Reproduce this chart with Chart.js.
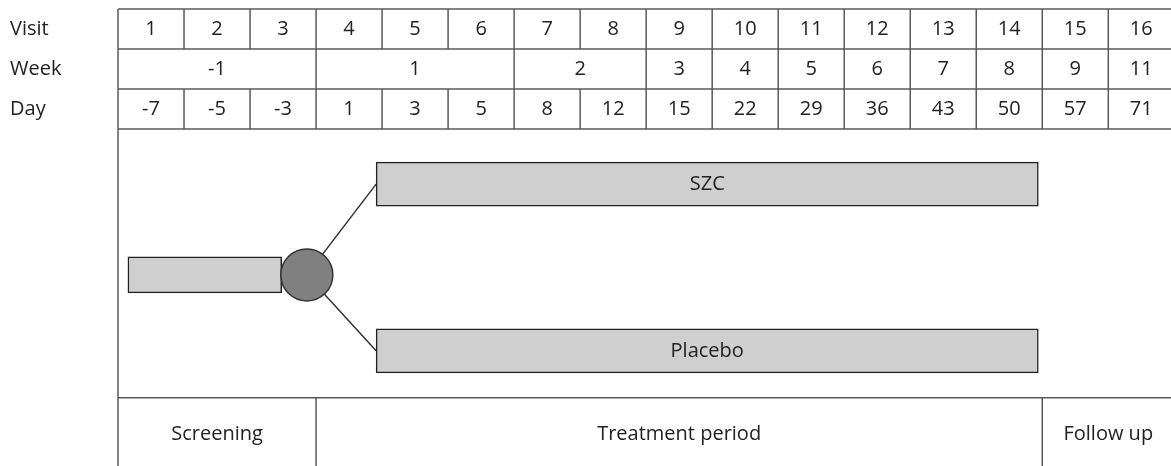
<!DOCTYPE html>
<html lang="en">
<head>
    <meta charset="UTF-8">
    <title>Study design</title>
    <style>
        body {
            margin: 0;
            background-color: #fff;
        }
        .chart-box {
            position: relative;
            width: 1171px;
            height: 466px;
        }
    </style>
    <script src="https://cdn.jsdelivr.net/npm/chart.js"></script>
</head>
<body>
    <div class="chart-box">
        <canvas id="design"></canvas>
    </div>

    <script>
        // table header rows
        const rowLabels = ['Visit', 'Week', 'Day'];
        const visits = ['1', '2', '3', '4', '5', '6', '7', '8', '9', '10', '11', '12', '13', '14', '15', '16'];
        const weekLabels = ['-1', '1', '2', '3', '4', '5', '6', '7', '8', '9', '11'];
        const weekSpans = [3, 3, 2, 1, 1, 1, 1, 1, 1, 1, 1];
        const days = ['-7', '-5', '-3', '1', '3', '5', '8', '12', '15', '22', '29', '36', '43', '50', '57', '71'];

        // study periods (bottom row), spans in visit columns
        const periodLabels = ['Screening', 'Treatment period', 'Follow up'];
        const periodSpans = [3, 11, 2];

        // arms: x in visit columns, y in table rows
        const armLabels = ['SZC', 'Placebo'];
        const armRows = [4.38, 8.55];
        const armStart = [3.91, 3.91];
        const armEnd = [13.94, 13.94];

        // screening bar and randomisation point
        const screenRow = 6.65;
        const screenStart = 0.15;
        const screenEnd = 2.48;
        const randX = 2.86;

        // where the diagram part ends and the period row starts
        const diagramEnd = 9.72;
        const periodRow = 10.63;

        const FONT = "'Open Sans', 'DejaVu Sans', sans-serif";
        const FONT_SIZE = 20;
        const LINE = '#5a5a5a';

        const tablePlugin = {
            id: 'table',
            beforeDatasetsDraw(chart) {
                const ctx = chart.ctx;
                const x = chart.scales.x;
                const y = chart.scales.y;
                const px = v => x.getPixelForValue(v);
                const py = v => y.getPixelForValue(v);
                const nCols = visits.length;

                ctx.save();
                ctx.strokeStyle = LINE;
                ctx.lineWidth = 1.5;

                function hline(x0, x1, yy) {
                    ctx.beginPath();
                    ctx.moveTo(px(x0), py(yy));
                    ctx.lineTo(px(x1), py(yy));
                    ctx.stroke();
                }
                function vline(xx, y0, y1) {
                    ctx.beginPath();
                    ctx.moveTo(px(xx), py(y0));
                    ctx.lineTo(px(xx), py(y1));
                    ctx.stroke();
                }

                // horizontal rules
                [0, 1, 2, 3, diagramEnd].forEach(r => hline(0, nCols, r));

                // outer verticals
                vline(0, 0, y.max);
                vline(nCols, 0, y.max);

                // visit and day columns
                for (let i = 1; i < nCols; i++) {
                    vline(i, 0, 1);
                    vline(i, 2, 3);
                }
                // week spans
                let acc = 0;
                weekSpans.forEach((s, i) => {
                    acc += s;
                    if (i < weekSpans.length - 1) vline(acc, 1, 2);
                });
                // period spans
                acc = 0;
                periodSpans.forEach((s, i) => {
                    acc += s;
                    if (i < periodSpans.length - 1) vline(acc, diagramEnd, y.max);
                });

                // cell texts
                ctx.fillStyle = '#222';
                ctx.font = FONT_SIZE + 'px ' + FONT;
                ctx.textAlign = 'center';
                ctx.textBaseline = 'middle';
                visits.forEach((t, i) => ctx.fillText(t, px(i + 0.5), py(0.5)));
                acc = 0;
                weekLabels.forEach((t, i) => {
                    ctx.fillText(t, px(acc + weekSpans[i] / 2), py(1.5));
                    acc += weekSpans[i];
                });
                days.forEach((t, i) => ctx.fillText(t, px(i + 0.5), py(2.5)));
                acc = 0;
                periodLabels.forEach((t, i) => {
                    ctx.fillText(t, px(acc + periodSpans[i] / 2), py(periodRow));
                    acc += periodSpans[i];
                });
                ctx.restore();
            },
            afterDatasetsDraw(chart) {
                // arm names inside the bars
                const ctx = chart.ctx;
                const meta = chart.getDatasetMeta(1);
                ctx.save();
                ctx.fillStyle = '#222';
                ctx.font = FONT_SIZE + 'px ' + FONT;
                ctx.textAlign = 'center';
                ctx.textBaseline = 'middle';
                meta.data.forEach((bar, i) => {
                    const c = bar.getCenterPoint();
                    ctx.fillText(armLabels[i], c.x, c.y);
                });
                ctx.restore();
            }
        };

        new Chart(document.getElementById('design'), {
            type: 'bar',
            data: {
                datasets: [
                    {
                        type: 'line',
                        data: [
                            { x: armStart[0], y: armRows[0] },
                            { x: randX, y: screenRow },
                            { x: armStart[1], y: armRows[1] }
                        ],
                        borderColor: '#333',
                        borderWidth: 1.5,
                        pointRadius: 0,
                        tension: 0,
                        order: 4
                    },
                    {
                        type: 'bar',
                        indexAxis: 'y',
                        data: armRows.map((r, i) => ({ y: r, x: [armStart[i], armEnd[i]] })),
                        backgroundColor: '#d0cfd0',
                        borderColor: '#222',
                        borderWidth: 1.5,
                        borderSkipped: false,
                        barThickness: 44,
                        grouped: false,
                        order: 3
                    },
                    {
                        type: 'bar',
                        indexAxis: 'y',
                        data: [{ y: screenRow, x: [screenStart, screenEnd] }],
                        backgroundColor: '#d0cfd0',
                        borderColor: '#222',
                        borderWidth: 1.5,
                        borderSkipped: false,
                        barThickness: 36,
                        grouped: false,
                        order: 2
                    },
                    {
                        type: 'scatter',
                        data: [{ x: randX, y: screenRow }],
                        backgroundColor: '#808080',
                        borderColor: '#333',
                        borderWidth: 1.5,
                        pointRadius: 26,
                        pointHoverRadius: 26,
                        order: 1
                    }
                ]
            },
            options: {
                responsive: true,
                maintainAspectRatio: false,
                animation: false,
                layout: {
                    autoPadding: false,
                    padding: { left: 10, top: 9, right: 0, bottom: 0 }
                },
                plugins: {
                    legend: { display: false },
                    tooltip: { enabled: false }
                },
                scales: {
                    x: {
                        type: 'linear',
                        min: 0,
                        max: 15.95,
                        offset: false,
                        grid: { display: false, offset: false },
                        display: false
                    },
                    y: {
                        type: 'linear',
                        min: 0,
                        max: 11.43,
                        reverse: true,
                        offset: false,
                        grid: { display: false, offset: false },
                        border: { display: false },
                        afterBuildTicks: axis => {
                            axis.ticks = rowLabels.map((_, i) => ({ value: i + 0.5 }));
                        },
                        afterFit: axis => {
                            axis.width = 108;
                            axis.paddingTop = 0;
                            axis.paddingBottom = 0;
                        },
                        ticks: {
                            crossAlign: 'far',
                            padding: 0,
                            color: '#222',
                            font: { family: FONT, size: FONT_SIZE },
                            callback: (v, i) => rowLabels[i]
                        }
                    }
                }
            },
            plugins: [tablePlugin]
        });
    </script>
</body>
</html>
